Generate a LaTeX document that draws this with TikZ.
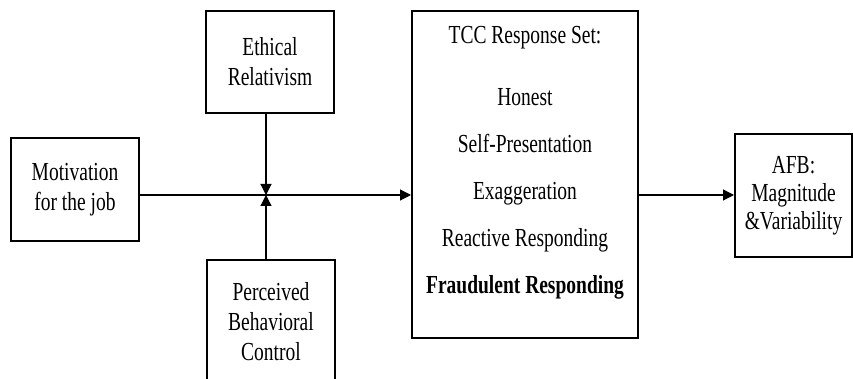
\documentclass[tikz,border=0pt]{standalone}
\usepackage{fontspec}
\setmainfont[FakeStretch=0.75]{Liberation Serif}
\usetikzlibrary{positioning, arrows.meta}

\begin{document}
\begin{tikzpicture}[x=0.5pt, y=-0.5pt, >={Triangle[length=5.5pt, width=5.5pt]}, every node/.style={font=\fontsize{13}{15}\selectfont},
    box/.style={draw, rectangle, line width=1pt, align=center, inner sep=0pt},
    link/.style={->, line width=0.6pt}]
    \clip (0,0) rectangle (853,379);
    \coordinate (mid) at (266,195);

    \node [box, minimum width=64pt, minimum height=51.5pt] (motive) at (75,189.5) {Motivation\\for the job};

    \node [box, minimum width=64pt, minimum height=51pt, above=40.5pt of mid, xshift=2pt] (ethics) {Ethical\\Relativism};

    \node [box, minimum width=64pt, minimum height=62pt, below=32pt of mid, xshift=2.5pt] (percv) {Perceived\\Behavioral\\Control};

    \node [box, minimum width=113pt, minimum height=163.5pt] (tcc) at (525,174.5) {};
    \node [align=center, inner sep=0pt, anchor=north, below=8pt of tcc.north] (tccset) {
        TCC Response Set:\\[16pt]
        Honest\\[8.5pt]
        Self-Presentation\\[8.5pt]
        Exaggeration\\[8.5pt]
        Reactive Responding\\[8.5pt]
        \textbf{Fraudulent Responding}
    };

    \node [box, minimum width=58.5pt, minimum height=61.5pt] (afb) at (793.5,195.5) {AFB:\\[-1pt]Magnitude\\[-1pt]\&Variability};

    \draw [link] (motive.east |- mid) -- (tcc.west |- mid);
    \draw [link] (ethics.south -| mid) -- (mid);
    \draw [link] (percv.north -| mid) -- (mid);
    \draw [link] (tcc.east |- mid) -- (afb.west |- mid);
\end{tikzpicture}
\end{document}
